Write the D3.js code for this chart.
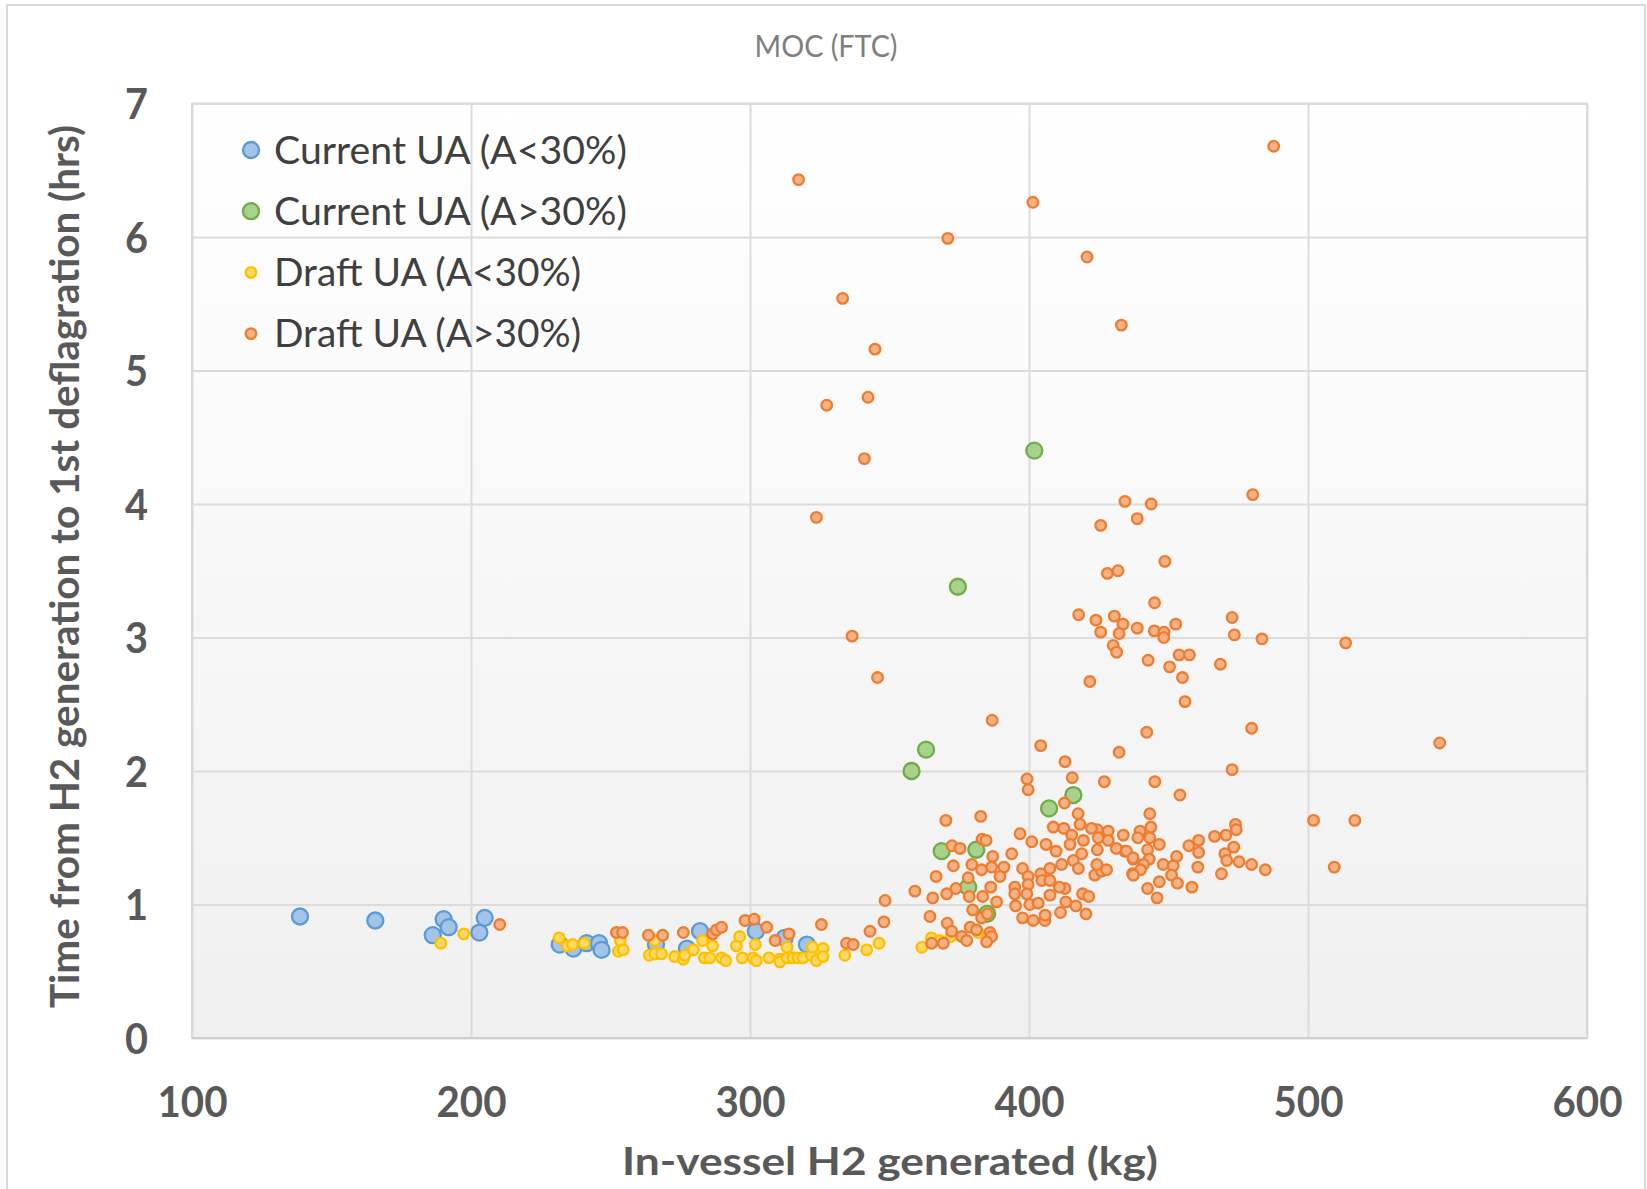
<!DOCTYPE html>
<html lang="en">
<head>
<meta charset="UTF-8">
<title>MOC (FTC)</title>
<style>
  body { margin: 0; background: #ffffff; }
  svg { display: block; }
</style>
</head>
<body>
<script src="https://d3js.org/d3.v7.min.js"></script>
<div id="chart"></div>
<script>
// ---- data ----
var xTicks = [100, 200, 300, 400, 500, 600];
var yTicks = [0, 1, 2, 3, 4, 5, 6, 7];
var seriesNames = ["Current UA (A<30%)", "Current UA (A>30%)", "Draft UA (A<30%)", "Draft UA (A>30%)"];

// [H2 generated (kg), time to 1st deflagration (hrs)]
var currentLow = [
  [138.7,0.91],[165.7,0.88],[186.3,0.77],[190.2,0.89],[192.0,0.83],[203.0,0.79],[204.9,0.90],
  [231.8,0.70],[236.7,0.67],[241.5,0.71],[245.9,0.71],[246.8,0.66],[266.3,0.70],[277.4,0.67],
  [282.1,0.80],[302.1,0.80],[312.4,0.75],[320.4,0.70]
];
var currentHigh = [
  [401.9,4.40],[374.5,3.38],[363.1,2.16],[357.9,2.00],[415.9,1.82],[407.2,1.72],
  [368.7,1.40],[381.1,1.41],[378.2,1.13],[385.0,0.93]
];
var draftLow = [
  [189.2,0.71],[197.4,0.78],[231.6,0.75],[234.5,0.69],[236.4,0.70],[240.6,0.71],[253.5,0.73],
  [252.8,0.65],[254.6,0.66],[263.9,0.62],[265.9,0.63],[268.3,0.63],[265.9,0.73],[273.0,0.61],
  [276.1,0.59],[276.6,0.62],[279.7,0.66],[283.0,0.73],[283.6,0.60],[285.6,0.60],[286.6,0.69],
  [289.8,0.60],[291.3,0.58],[295.1,0.69],[296.3,0.76],[297.2,0.60],[301.9,0.70],[301.1,0.60],
  [302.3,0.58],[306.8,0.60],[310.5,0.59],[310.7,0.57],[313.3,0.68],[313.3,0.60],[315.4,0.60],
  [317.2,0.60],[319.0,0.60],[322.0,0.62],[322.4,0.68],[323.8,0.58],[326.2,0.67],[326.2,0.61],
  [334.0,0.62],[341.8,0.66],[346.3,0.71],[361.6,0.68],[365.0,0.75],[368.0,0.73],[372.0,0.76],
  [381.8,0.79]
];
var draftHigh = [
  // upper scatter
  [317.4,6.43],[401.4,6.26],[487.7,6.68],[370.9,5.99],[420.8,5.85],[333.2,5.54],[433.1,5.34],
  [344.8,5.16],[327.5,4.74],[342.3,4.80],[341.0,4.34],[323.8,3.90],[336.6,3.01],[345.7,2.70],
  // 2 - 4 hrs
  [480.2,4.07],[434.4,4.02],[443.8,4.00],[438.8,3.89],[425.7,3.84],[448.7,3.57],[428.1,3.48],
  [431.9,3.50],[445.0,3.26],[417.8,3.17],[424.0,3.13],[430.6,3.16],[433.7,3.10],[425.7,3.04],
  [432.3,3.03],[438.8,3.07],[444.9,3.05],[448.4,3.04],[448.3,3.00],[452.6,3.10],[472.8,3.15],
  [473.6,3.02],[483.5,2.99],[430.2,2.94],[431.4,2.89],[442.7,2.83],[453.8,2.87],[457.5,2.87],
  [450.4,2.78],[468.6,2.80],[455.0,2.70],[421.8,2.67],[455.9,2.52],[442.2,2.29],[479.8,2.32],
  [404.2,2.19],[432.3,2.14],[412.9,2.07],[472.8,2.01],[386.8,2.38],[547.2,2.21],[513.5,2.96],
  [399.3,1.94],[399.7,1.86],[415.5,1.95],[427.0,1.92],[445.1,1.92],[454.1,1.82],[412.7,1.76],
  [502.0,1.63],[516.8,1.63],[370.2,1.63],[382.7,1.66],[443.3,1.68],[417.6,1.68],[509.4,1.28],
  // right part of the main cluster
  [443.7,1.58],[474.0,1.60],[474.3,1.56],[433.8,1.52],[439.8,1.55],[439.0,1.50],[443.3,1.50],
  [446.7,1.45],[460.8,1.48],[457.3,1.44],[466.5,1.51],[470.6,1.52],[473.4,1.43],[460.8,1.39],
  [442.5,1.41],[434.3,1.40],[470.2,1.38],[437.3,1.34],[443.1,1.34],[452.9,1.36],[448.1,1.30],
  [451.7,1.29],[441.0,1.30],[460.5,1.28],[470.9,1.33],[475.3,1.32],[479.8,1.30],[484.7,1.26],
  [469.0,1.23],[437.1,1.23],[440.0,1.26],[451.1,1.22],[446.7,1.17],[453.2,1.16],[458.4,1.13],
  [442.5,1.12],[445.9,1.05],
  // left part of the main cluster
  [372.4,1.44],[375.3,1.42],[383.2,1.49],[384.6,1.48],[396.8,1.53],[401.0,1.47],[406.1,1.45],
  [409.7,1.40],[408.7,1.58],[412.5,1.57],[418.3,1.60],[415.3,1.52],[419.5,1.48],[414.7,1.45],
  [424.5,1.56],[428.4,1.55],[424.8,1.50],[428.4,1.48],[424.5,1.41],[431.3,1.42],[434.9,1.40],
  [437.3,1.35],[418.9,1.38],[415.9,1.33],[417.7,1.27],[411.7,1.30],[407.5,1.27],[404.2,1.23],
  [397.7,1.27],[399.7,1.21],[393.8,1.38],[387.0,1.36],[391.0,1.28],[389.6,1.21],[386.6,1.28],
  [383.0,1.26],[379.5,1.30],[372.9,1.29],[378.2,1.20],[366.7,1.21],[359.1,1.10],[365.5,1.05],
  [370.5,1.08],[373.8,1.12],[378.6,1.06],[383.4,1.06],[386.3,1.13],[388.4,1.02],[379.8,0.96],
  [383.0,0.90],[385.1,0.93],[364.5,0.91],[370.7,0.86],[372.3,0.80],[378.9,0.83],[381.2,0.81],
  [386.0,0.79],[386.6,0.76],[384.8,0.72],[375.9,0.76],[377.7,0.73],[369.3,0.71],[365.1,0.71],
  [394.9,1.13],[394.9,1.08],[395.2,0.99],[397.7,0.90],[401.5,0.88],[405.7,0.88],[405.8,0.92],
  [400.3,1.00],[403.3,1.01],[399.7,1.15],[399.2,1.08],[407.5,1.07],[411.3,0.94],[413.2,1.02],
  [416.8,0.99],[420.4,0.93],[419.2,1.08],[421.4,1.06],[412.9,1.12],[410.9,1.13],[404.6,1.18],
  [407.5,1.18],[423.6,1.22],[426.0,1.25],[427.8,1.26],[424.3,1.30],[437.4,1.22],[422.4,1.57],
  // low, left side
  [348.4,1.03],[348.0,0.87],[343.0,0.80],[210.3,0.85],[252.1,0.79],[254.3,0.79],[263.6,0.77],
  [268.7,0.77],[276.1,0.79],[286.6,0.78],[288.0,0.81],[289.8,0.83],[298.2,0.88],[301.5,0.89],
  [306.0,0.83],[309.0,0.73],[314.0,0.78],[325.6,0.85],[334.6,0.71],[337.0,0.70]
];

// ---- layout ----
var W = 1647, H = 1189;
var plot = {left: 192, right: 1587, top: 103.5, bottom: 1038};
var font = "Lato, 'Open Sans', sans-serif";

var svg = d3.select("#chart").append("svg")
  .attr("width", W)
  .attr("height", H);

// chart area border (bottom edge runs off the picture)
svg.append("rect")
  .attr("x", 7).attr("y", 5)
  .attr("width", 1638).attr("height", 1220)
  .attr("fill", "#ffffff")
  .attr("stroke", "#d9d9d9")
  .attr("stroke-width", 2);

var x = d3.scaleLinear().domain([100, 600]).range([plot.left, plot.right]);
var y = d3.scaleLinear().domain([0, 7]).range([plot.bottom, plot.top]);

// plot background gradient
var grad = svg.append("defs").append("linearGradient")
  .attr("id", "bg").attr("x1", 0).attr("y1", 0).attr("x2", 0).attr("y2", 1);
grad.append("stop").attr("offset", "0%").attr("stop-color", "#ffffff");
grad.append("stop").attr("offset", "100%").attr("stop-color", "#f0f0f0");

svg.append("rect")
  .attr("x", x(100)).attr("y", y(7))
  .attr("width", x(600) - x(100)).attr("height", y(0) - y(7))
  .attr("fill", "url(#bg)");

// gridlines
var gx = svg.append("g")
  .attr("transform", "translate(0," + y(0) + ")")
  .call(d3.axisBottom(x).tickValues(xTicks).tickSize(-(y(0) - y(7))).tickFormat(""));
var gy = svg.append("g")
  .attr("transform", "translate(" + x(100) + ",0)")
  .call(d3.axisLeft(y).tickValues(yTicks).tickSize(-(x(600) - x(100))).tickFormat(""));
[gx, gy].forEach(function(g) {
  g.select(".domain").remove();
  g.selectAll("line").attr("stroke", "#dcdcdc").attr("stroke-width", 2);
});

// plot border
svg.append("rect")
  .attr("x", x(100)).attr("y", y(7))
  .attr("width", x(600) - x(100)).attr("height", y(0) - y(7))
  .attr("fill", "none")
  .attr("stroke", "#d9d9d9")
  .attr("stroke-width", 2);
svg.append("line")
  .attr("x1", x(100)).attr("x2", x(600))
  .attr("y1", y(0)).attr("y2", y(0))
  .attr("stroke", "#cfcfcf").attr("stroke-width", 2);

// tick labels
var ax = svg.append("g")
  .attr("transform", "translate(0," + y(0) + ")")
  .call(d3.axisBottom(x).tickValues(xTicks).tickSize(0).tickFormat(d3.format("d")));
ax.select(".domain").remove();
ax.selectAll("text")
  .attr("y", 79).attr("dy", null)
  .attr("textLength", 70).attr("lengthAdjust", "spacingAndGlyphs")
  .style("font-family", font).style("font-weight", "bold")
  .style("font-size", "42px").attr("fill", "#595959");

var ay = svg.append("g")
  .attr("transform", "translate(" + x(100) + ",0)")
  .call(d3.axisLeft(y).tickValues(yTicks).tickSize(0).tickFormat(d3.format("d")));
ay.select(".domain").remove();
ay.selectAll("text")
  .attr("x", -44).attr("dy", "15px")
  .attr("textLength", 23).attr("lengthAdjust", "spacingAndGlyphs")
  .style("font-family", font).style("font-weight", "bold")
  .style("font-size", "42px").attr("fill", "#595959");

// series
var series = [
  {data: currentLow,  fill: "#a3c4e8", stroke: "#5b9bd5", r: 8},
  {data: currentHigh, fill: "#a9d18e", stroke: "#70ad47", r: 8},
  {data: draftLow,    fill: "#ffd966", stroke: "#ffc000", r: 5.3},
  {data: draftHigh,   fill: "#f4b183", stroke: "#ed7d31", r: 5.3}
];

series.forEach(function(s) {
  svg.append("g").selectAll("circle")
    .data(s.data)
    .enter().append("circle")
      .attr("cx", function(d) { return x(d[0]); })
      .attr("cy", function(d) { return y(d[1]); })
      .attr("r", s.r)
      .attr("fill", s.fill)
      .attr("stroke", s.stroke)
      .attr("stroke-width", 2.3);
});

// legend
var legendLens = [353, 353, 307, 307];
var legend = svg.append("g");
series.forEach(function(s, i) {
  var cy = 150 + i * 61.2;
  legend.append("circle")
    .attr("cx", 251).attr("cy", cy).attr("r", s.r)
    .attr("fill", s.fill).attr("stroke", s.stroke).attr("stroke-width", 2.3);
  legend.append("text")
    .attr("x", 274).attr("y", cy + 13.5)
    .attr("textLength", legendLens[i]).attr("lengthAdjust", "spacingAndGlyphs")
    .style("font-family", font).style("font-size", "38.5px")
    .attr("fill", "#404040")
    .text(seriesNames[i]);
});

// title and axis titles
svg.append("text")
  .attr("x", 826).attr("y", 56.5)
  .attr("text-anchor", "middle")
  .attr("textLength", 143).attr("lengthAdjust", "spacingAndGlyphs")
  .style("font-family", font).style("font-size", "30px")
  .attr("fill", "#7f7f7f")
  .text("MOC (FTC)");

svg.append("text")
  .attr("x", 890).attr("y", 1175)
  .attr("text-anchor", "middle")
  .attr("textLength", 536).attr("lengthAdjust", "spacingAndGlyphs")
  .style("font-family", font).style("font-weight", "bold").style("font-size", "37.5px")
  .attr("fill", "#595959")
  .text("In-vessel H2 generated (kg)");

svg.append("text")
  .attr("transform", "translate(79,566.5) rotate(-90)")
  .attr("text-anchor", "middle")
  .attr("textLength", 883).attr("lengthAdjust", "spacingAndGlyphs")
  .style("font-family", font).style("font-weight", "bold").style("font-size", "40px")
  .attr("fill", "#595959")
  .text("Time from H2 generation to 1st deflagration (hrs)");
</script>
</body>
</html>
